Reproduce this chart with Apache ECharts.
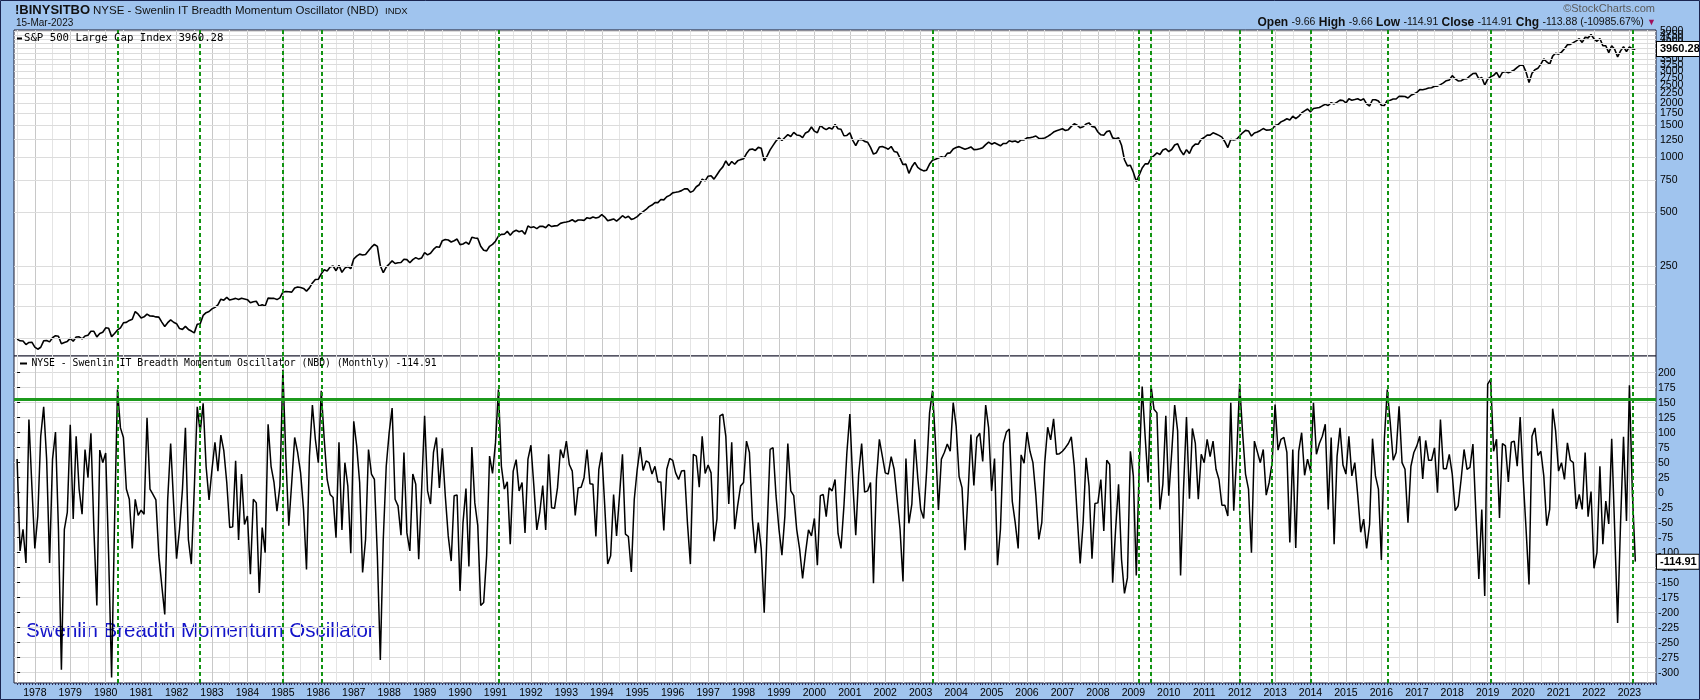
<!DOCTYPE html>
<html><head><meta charset="utf-8">
<script src="https://cdn.jsdelivr.net/npm/echarts@6/dist/echarts.min.js"></script>
<style>html,body{margin:0;padding:0;background:#a0c4ee;}#c{width:1700px;height:700px;}</style>
</head><body><div id="c"></div>
<script>
// ---- DATA (monthly bars, first bar = Jul 1977, last = Mar 2023) ----
const startYear = 1977, startMonth = 7;
const spx1977_1989 = [98.9,96.8,96.5,92.3,94.8,95.1,
89.3,87.0,89.2,96.8,97.2,95.5,100.7,103.3,102.5,93.2,94.7,96.1,
99.9,96.3,101.6,101.8,99.1,102.9,103.8,109.3,109.3,101.8,106.2,107.9,
114.2,113.7,102.1,106.3,111.2,114.2,121.7,122.4,125.5,127.5,140.5,135.8,
129.6,131.3,136.0,132.8,132.6,131.2,130.9,122.8,116.2,121.9,126.4,122.6,
120.4,113.1,112.0,116.4,111.9,109.6,107.1,119.5,120.4,133.7,138.5,140.6,
145.3,148.1,153.0,164.4,162.4,168.1,162.6,164.4,166.1,163.6,166.4,164.9,
163.4,157.1,159.2,160.1,150.6,153.2,150.7,166.7,166.1,166.1,163.6,167.2,
179.6,181.2,180.7,179.8,189.6,191.9,190.9,188.6,182.1,189.8,202.2,211.3,
211.8,226.9,238.9,235.5,247.4,250.8,236.1,252.9,231.3,244.0,249.2,242.2,
274.1,284.2,291.7,288.4,290.1,304.0,318.7,329.8,321.8,251.8,230.3,247.1,
257.1,267.8,258.9,261.3,262.2,273.5,272.0,261.5,271.9,279.0,273.7,277.7,
297.5,288.9,294.9,309.6,320.5,318.0,346.1,351.5,349.2,340.4,346.0,353.4];
const spx1990_1999 = [329.1,331.9,339.9,330.8,361.2,358.0,356.2,322.6,306.1,304.0,322.2,330.2,
343.9,367.1,375.2,375.4,389.8,371.2,387.8,395.4,387.9,392.5,375.2,417.1,
408.8,412.7,403.7,415.0,415.4,408.1,424.2,414.0,417.8,418.7,431.4,435.7,
438.8,443.4,451.7,440.2,450.2,450.5,448.1,463.6,458.9,467.8,461.8,466.5,
481.6,467.1,445.8,450.9,456.5,444.3,458.3,475.5,462.7,472.4,453.7,459.3,
470.4,487.4,500.7,514.7,533.4,544.8,562.1,561.9,584.4,581.5,605.4,615.9,
636.0,640.4,645.5,654.2,669.1,670.6,640.0,652.0,687.3,705.3,757.0,740.7,
786.2,790.8,757.1,801.3,848.3,885.1,954.3,899.5,947.3,914.6,955.4,970.4,
980.3,1049,1102,1112,1091,1134,1121,957.3,1017,1099,1164,1229,
1280,1238,1286,1335,1302,1373,1329,1320,1283,1363,1389,1469];
const spx2000_2009 = [1394,1366,1499,1452,1421,1455,1431,1518,1437,1429,1315,1320,
1366,1240,1160,1249,1256,1224,1211,1134,1041,1060,1139,1148,
1130,1107,1147,1077,1067,989.8,911.6,916.1,815.3,885.8,936.3,879.8,
855.7,841.2,848.2,916.9,963.6,974.5,990.3,1008,996.0,1051,1058,1112,
1131,1145,1126,1107,1121,1141,1102,1104,1115,1130,1174,1212,
1181,1204,1181,1157,1192,1191,1234,1220,1229,1207,1249,1248,
1280,1281,1295,1311,1270,1270,1277,1304,1336,1378,1401,1418,
1438,1407,1421,1482,1531,1503,1455,1474,1527,1549,1481,1468,
1379,1331,1323,1386,1400,1280,1267,1283,1166,968.8,896.2,903.3,
825.9,735.1,797.9,872.8,919.1,919.3,987.5,1021,1057,1036,1096,1115];
const spx2010_2023 = [1074,1104,1169,1187,1089,1031,1102,1049,1141,1183,1181,1258,
1286,1327,1326,1364,1345,1321,1292,1219,1131,1253,1247,1258,
1312,1366,1408,1398,1310,1362,1379,1407,1441,1412,1416,1426,
1498,1515,1569,1598,1631,1606,1686,1633,1682,1757,1806,1848,
1783,1859,1872,1884,1924,1960,1931,2003,1972,2018,2068,2059,
1995,2105,2068,2086,2107,2063,2104,1972,1920,2079,2080,2044,
1940,1932,2060,2065,2097,2099,2174,2171,2168,2126,2199,2239,
2279,2364,2363,2384,2412,2423,2470,2472,2519,2575,2648,2674,
2824,2714,2641,2648,2705,2718,2816,2902,2914,2712,2760,2507,
2704,2784,2834,2946,2752,2942,2980,2926,2977,3038,3141,3231,
3226,2954,2585,2912,3044,3100,3271,3500,3363,3270,3622,3756,
3714,3811,3973,4181,4204,4298,4395,4523,4308,4605,4567,4766,
4516,4374,4530,4132,4132,3785,4130,3955,3586,3872,4080,3840,
4077,3970,3960.28];

const osc1977_1985 = [56,-97,-61,-117,122,11,-93,-39,94,143,56,-117,56,101,-61,-295,-61,-33,113,-44,
94,6,-36,72,25,99,-61,-188,71,50,66,-105,-308,-50,172,108,92,6,-11,-93,
-11,-38,-29,-36,125,6,-3,-12,-105,-155,-203,-11,82,-17,-110,-61,6,108,-78,-119,
6,143,100,149,44,-12,39,84,36,96,70,17,-58,-57,53,-79,31,-53,-39,-136,
-11,-17,-167,-58,-100,114,44,17,-31,11,205,60];
const osc1985_1992 = [-55,17,92,67,33,-28,-128,61,146,89,50,170,89,22,-3,-8,-75,84,-62,50,
11,-101,119,78,17,-133,-78,72,31,22,-105,-279,-78,44,100,141,-11,-22,-71,67,
-67,-97,31,14,-111,6,128,3,-19,67,92,8,74,-5,-72,-114,-5,-4,-164,-50,
7,-123,76,-17,-55,-188,-183,-105,61,32,83,172,44,6,18,-86,36,55,3,17,
-67,56,79,11,-62,-33,12,-62,64,-25,-26,8,72,58];
const osc1993_2000 = [86,47,36,-38,8,9,25,72,15,14,-73,39,67,-22,-119,-105,-3,-72,-5,64,
-69,-73,-132,-11,39,76,37,53,50,31,44,18,18,-63,39,57,54,33,22,36,
37,-50,-119,64,61,9,94,32,46,33,-81,-44,128,131,94,-19,84,-61,-22,11,
17,86,67,-44,-101,-50,-94,-200,-61,72,75,-5,-61,-104,-39,82,3,-5,-61,-94,
-143,-100,-62,-72,-43,-121,-5,-3,-40,8,3];
const osc2000_2008 = [22,-68,-93,-22,67,131,17,-71,31,82,1,3,17,-151,22,89,61,33,31,60,
39,-11,-61,-148,57,-51,-19,89,25,-28,-43,36,133,170,83,-29,56,67,81,69,
150,111,27,8,-96,-5,97,12,92,99,52,146,108,3,57,-121,-61,82,101,106,
-14,-50,-93,63,49,101,69,50,-5,-78,-50,50,109,88,123,64,65,69,75,82,
93,44,-39,-118,-50,58,11,-110,-18,-17,22,-64,54,47,-150];
const osc2008_2016 = [-61,14,-111,-168,-142,69,28,-138,44,177,94,17,178,139,133,-28,14,128,-5,67,
146,103,-138,6,126,-10,107,82,-11,64,50,89,60,86,39,22,-21,-21,-39,150,
-30,61,181,100,31,6,-100,86,68,50,72,-4,17,50,147,71,89,92,67,-83,
72,-92,69,100,29,56,36,150,64,82,94,114,-28,92,-86,61,108,46,31,94,
28,50,-5,-66,-44,-93,-53,90,28,6,-112,89,172];
const osc2016_2023 = [117,54,67,144,50,39,-50,44,67,78,94,23,87,54,54,75,0,122,40,40,
64,31,-30,-22,22,72,39,42,81,-33,-144,-28,-172,181,189,69,89,-42,82,78,
18,84,86,44,126,25,-61,-153,94,108,62,69,28,-55,-28,140,103,36,50,22,
83,54,50,-27,-3,-28,67,-40,2,-126,-100,44,-86,-14,-52,90,-61,-217,-50,93,
-47,179,-1.03,-114.91];

const signalDates = ['1980-05','1982-09','1985-01','1986-02','1991-02','2003-05','2009-03','2009-07','2012-01','2012-12','2014-01','2016-03','2019-02','2023-02'];
const thresholdLevel = 155;
const spxTickLabels = [250,500,750,1000,1250,1500,1750,2000,2250,2500,2750,3000,3250,3500,3750,4000,4250,4500,4750,5000];
const spxMinorGrid = [100,150,200];
const oscTickLabels = [200,175,150,125,100,75,50,25,0,-25,-50,-75,-100,-125,-150,-175,-200,-225,-250,-275,-300];

// ---- BUILD ----
const spx = [].concat(spx1977_1989, spx1990_1999, spx2000_2009, spx2010_2023);
const osc = [].concat(osc1977_1985, osc1985_1992, osc1993_2000, osc2000_2008, osc2008_2016, osc2016_2023);
const N = spx.length;
const months = [];
for (let k = 0; k < N; k++) {
  const m = startMonth - 1 + k;
  months.push((startYear + Math.floor(m / 12)) + '-' + String(m % 12 + 1).padStart(2, '0'));
}
const idxOf = d => { const y = +d.slice(0,4), m = +d.slice(5,7); return (y - startYear) * 12 + (m - startMonth); };
const X_MIN = -1.05, X_MAX = 555.0;
const halfYearTicks = [], janTicks = [], monthTicks = [];
for (let k = 0; k <= Math.floor(X_MAX); k++) {
  const m = (startMonth - 1 + k) % 12;
  monthTicks.push(k);
  if (m === 0 || m === 6) halfYearTicks.push(k);
  if (m === 0) janTicks.push(k);
}
const firstIsJul = ((startMonth - 1 + halfYearTicks[0]) % 12) === 6;
const gridColors = firstIsJul ? ['#e4e4e4', '#c8c8c8'] : ['#c8c8c8', '#e4e4e4'];
const yearOf = v => String(startYear + Math.floor((startMonth - 1 + v) / 12));

const FONT = '"Liberation Sans", Arial, sans-serif';
const MONO = '"DejaVu Sans Mono", "Liberation Mono", monospace';
const GREEN = '#119311';
const FRAME = '#1c1c30';

function xAxisFor(gridIndex, showLabels) {
  return {
    type: 'value', gridIndex, min: X_MIN, max: X_MAX,
    axisLine: {show: false},
    axisTick: {show: false, customValues: halfYearTicks},
    axisLabel: showLabels ? {show: true, customValues: janTicks, formatter: yearOf, fontSize: 10.5, color: '#000', fontFamily: FONT, margin: 5} : {show: false},
    splitLine: {show: true, lineStyle: {color: gridColors, width: 1}}
  };
}
function signalLines() {
  return {
    silent: true, symbol: 'none', animation: false,
    lineStyle: {color: GREEN, type: [4, 3], width: 2},
    label: {show: false},
    data: signalDates.map(d => ({xAxis: idxOf(d)}))
  };
}
function lastValueBox(v) {
  return {silent: true, symbol: 'none', animation: false,
    lineStyle: {color: 'rgba(0,0,0,0)', width: 1},
    label: {show: true, position: 'end', distance: 1, formatter: p => (+p.value).toFixed(2),
      fontSize: 11, fontWeight: 'bold', color: '#000', fontFamily: FONT,
      backgroundColor: '#fff', borderColor: '#000', borderWidth: 1, padding: [2, 2, 1, 3]},
    data: [{yAxis: v}]};
}

const spxGridLines = spxMinorGrid.concat(spxTickLabels);

const option = {
  animation: false,
  backgroundColor: '#a0c4ee',
  grid: [
    {left: 14, right: 44, top: 30, height: 326, show: true, backgroundColor: '#fff', borderColor: FRAME, borderWidth: 1},
    {left: 14, right: 44, top: 356, height: 327, show: true, backgroundColor: '#fff', borderColor: FRAME, borderWidth: 1}
  ],
  xAxis: [xAxisFor(0, false), xAxisFor(1, true),
    {type: 'value', gridIndex: 1, min: X_MIN, max: X_MAX, position: 'bottom',
     axisLine: {show: false}, axisLabel: {show: false}, splitLine: {show: false},
     axisTick: {show: true, customValues: monthTicks, length: 2, inside: false, lineStyle: {color: '#2a2a55', width: 1}}}],
  yAxis: [
    {type: 'log', gridIndex: 0, min: 79.8, max: 5049, position: 'right',
     axisLine: {show: false}, axisTick: {show: false}, axisLabel: {show: false}, splitLine: {show: false}},
    {type: 'value', gridIndex: 1, min: -317.2, max: 227.8, position: 'right',
     axisLine: {show: false},
     axisTick: {show: true, customValues: oscTickLabels, length: 3, lineStyle: {color: '#000'}},
     axisLabel: {show: true, customValues: oscTickLabels, fontSize: 10.5, color: '#000', fontFamily: FONT, margin: 2},
     splitLine: {show: true, lineStyle: {color: '#dcdcdc', width: 1}}}
  ],
  series: [
    {name: 'spxGrid', type: 'line', xAxisIndex: 0, yAxisIndex: 0, data: [], z: 1, silent: true,
     markLine: {silent: true, symbol: 'none', animation: false,
       lineStyle: {color: '#dcdcdc', type: 'solid', width: 1},
       label: {show: true, position: 'end', distance: 4, fontSize: 10.5, color: '#000', fontFamily: FONT},
       data: spxGridLines.map(v => ({yAxis: v, label: {show: spxTickLabels.indexOf(v) >= 0, formatter: String(v)}}))}},
    {name: 'sigTop', type: 'line', xAxisIndex: 0, yAxisIndex: 0, data: [], z: 4, silent: true, markLine: signalLines()},
    {name: 'sigBottom', type: 'line', xAxisIndex: 1, yAxisIndex: 1, data: [], z: 4, silent: true, markLine: signalLines()},
    {name: 'S&P 500 Large Cap Index', type: 'line', xAxisIndex: 0, yAxisIndex: 0, z: 3,
     data: spx.map((v, i) => [i, v]), showSymbol: false, symbol: 'none',
     lineStyle: {color: '#000', width: 1.6},
     markLine: lastValueBox(spx[N - 1])},
    {name: 'Swenlin IT Breadth Momentum Oscillator', type: 'line', xAxisIndex: 1, yAxisIndex: 1, z: 3,
     data: osc.map((v, i) => [i, v]), showSymbol: false, symbol: 'none',
     lineStyle: {color: '#000', width: 1.5},
     markLine: lastValueBox(osc[N - 1])},
    {name: 'threshold', type: 'line', xAxisIndex: 1, yAxisIndex: 1, data: [], z: 5, silent: true,
     markLine: {silent: true, symbol: 'none', animation: false, label: {show: false},
       lineStyle: {color: '#1c9a1c', type: 'solid', width: 3},
       data: [{yAxis: thresholdLevel}]}}
  ],
  graphic: [
    {type: 'text', z: 10, style: {x: 15, y: 10, text: '!BINYSITBO', font: 'bold 13px ' + FONT, fill: '#111', textVerticalAlign: 'middle'}},
    {type: 'text', z: 10, style: {x: 93, y: 10.5, text: 'NYSE - Swenlin IT Breadth Momentum Oscillator (NBD)', font: '11.5px ' + FONT, fill: '#111', textVerticalAlign: 'middle'}},
    {type: 'text', z: 10, style: {x: 385, y: 11, text: 'INDX', font: '9.5px ' + FONT, fill: '#111', textVerticalAlign: 'middle'}},
    {type: 'text', z: 10, style: {x: 16, y: 23.5, text: '15-Mar-2023', font: '10px ' + FONT, fill: '#111', textVerticalAlign: 'middle'}},
    {type: 'text', z: 10, style: {x: 1655, y: 9, text: '©StockCharts.com', font: '11px ' + FONT, fill: '#5a5a5a', textAlign: 'right', textVerticalAlign: 'middle'}},
    {type: 'text', z: 10, style: {x: 1656, y: 22.5, textAlign: 'right', textVerticalAlign: 'middle',
      text: '{b|Open} {v|-9.66} {b|High} {v|-9.66} {b|Low} {v|-114.91} {b|Close} {v|-114.91} {b|Chg} {v|-113.88 (-10985.67%)} {r|▼}',
      rich: {b: {font: 'bold 12px ' + FONT, fill: '#111'}, v: {font: '10.5px ' + FONT, fill: '#111'}, r: {font: '9px ' + FONT, fill: '#a0105a'}}}},
    {type: 'rect', z: 10, shape: {x: 17, y: 37.5, width: 5, height: 2}, style: {fill: '#000'}},
    {type: 'text', z: 10, style: {x: 24, y: 38.5, text: 'S&P 500 Large Cap Index 3960.28', font: '10.7px ' + MONO, fill: '#000', textVerticalAlign: 'middle'}},
    {type: 'rect', z: 10, shape: {x: 20, y: 362.5, width: 7, height: 2}, style: {fill: '#000'}},
    {type: 'text', z: 10, style: {x: 31.5, y: 363.5, text: 'NYSE - Swenlin IT Breadth Momentum Oscillator (NBD) (Monthly) -114.91', font: '9.75px ' + MONO, fill: '#000', textVerticalAlign: 'middle'}},
    {type: 'text', z: 0, style: {x: 26, y: 631, text: 'Swenlin Breadth Momentum Oscillator', font: '20.5px ' + FONT, fill: '#1212c8', textVerticalAlign: 'middle'}},
    {type: 'rect', z: 20, shape: {x: 0.5, y: 0.5, width: 1699, height: 699}, style: {fill: 'none', stroke: '#1a2550', lineWidth: 1}}
  ]
};
const chart = echarts.init(document.getElementById('c'), null, {renderer: 'canvas', width: 1700, height: 700});
chart.setOption(option);
</script>
</body></html>
